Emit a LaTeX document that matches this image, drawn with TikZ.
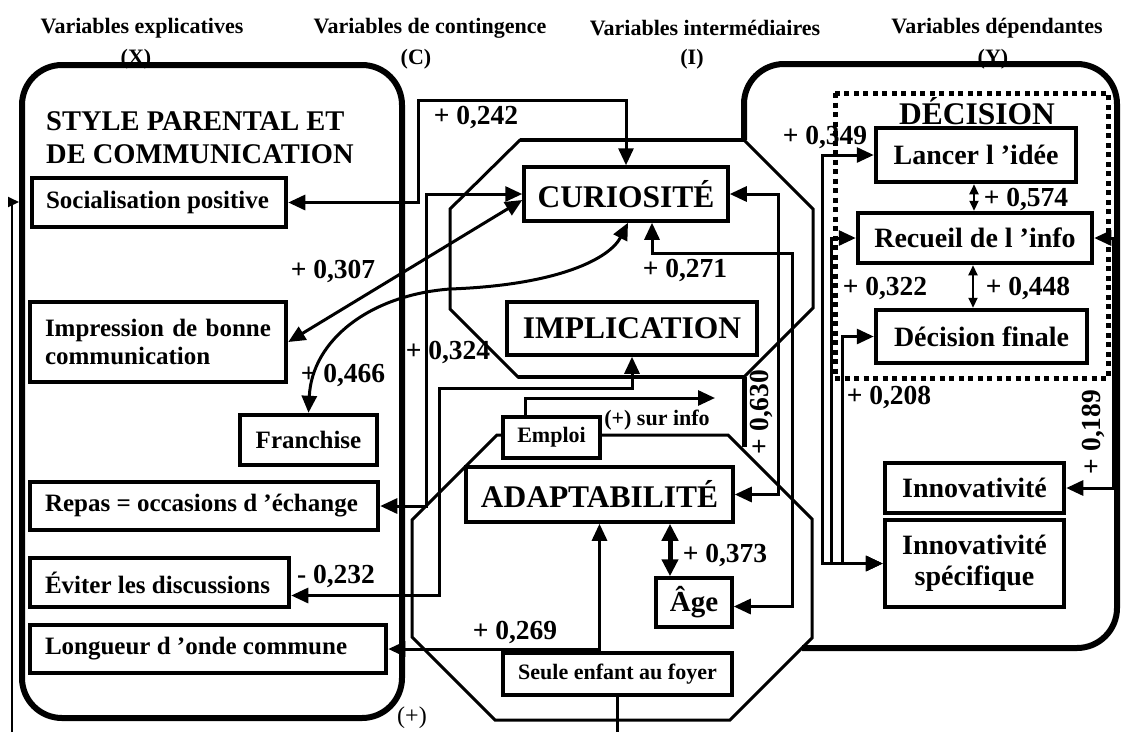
\documentclass[tikz,border=0pt]{standalone}
\usepackage{fontspec}
\setmainfont{Liberation Serif}
\usetikzlibrary{arrows.meta}
% text set flush left in a fixed-width slot
\newcommand\leftslot[2]{\makebox[#1][l]{#2}}
\begin{document}
\begin{tikzpicture}[x=1pt,y=-1pt,
  rbox/.style={line width=6pt, rounded corners=40pt},
  octo/.style={line width=3pt, line join=miter},
  xbox/.style={draw, line width=4.5pt, fill=white, inner sep=0pt, font=\bfseries\fontsize{25}{28}\selectfont},
  ybox/.style={draw, line width=4.5pt, fill=white, inner sep=0pt, align=center, font=\bfseries\fontsize{28}{31}\selectfont},
  ibox/.style={draw, line width=3.5pt, fill=white, inner sep=0pt, font=\bfseries\fontsize{31.5}{34}\selectfont},
  cbox/.style={draw, line width=3.5pt, fill=white, inner sep=0pt, font=\bfseries\fontsize{22}{25}\selectfont},
  link/.style={line width=3pt, arrows={Triangle[length=17pt,width=15pt]-Triangle[length=17pt,width=15pt]}},
  onelink/.style={line width=3pt, arrows={-Triangle[length=17pt,width=15pt]}},
  thinlink/.style={line width=2pt, arrows={Triangle[length=10pt,width=9pt]-Triangle[length=10pt,width=9pt]}},
  boldlink/.style={line width=5pt, arrows={Triangle[length=17pt,width=16pt]-Triangle[length=17pt,width=16pt]}},
  num/.style={font=\bfseries\fontsize{27.5}{30}\selectfont, inner sep=0pt},
  head/.style={font=\bfseries\fontsize{22}{25}\selectfont, inner sep=0pt}]
\useasboundingbox (0,0) rectangle (1121,732);

% column headings
\node[head] (hx)  at (142,28) {Variables explicatives};
\node[head] (hx2) at (136,59) {(X)};
\node[head] (hc)  at (430,28) {Variables de contingence};
\node[head] (hc2) at (416,59) {(C)};
\node[head] (hi)  at (705,28) {Variables intermédiaires};
\node[head] (hi2) at (692,59) {(I)};
\node[head] (hy)  at (997,28) {Variables dépendantes};
\node[head] (hy2) at (993,59) {(Y)};

% large frames
\draw[rbox] (22,65) rectangle (402,718);
\draw[rbox] (744,140) -- (744,64) -- (1117,64) -- (1117,648) -- (802,648);
\draw[line width=5pt] (744,377) -- (744,447);

% octagons of the intermediate variables
\draw[octo] (520,140) -- (744,140) -- (813,209) -- (813,308) -- (744,377) -- (518,377) -- (450,309) -- (450,209) -- cycle;
\draw[line width=4.5pt] (520,140) -- (744,140) (744,377) -- (518,377);
\draw[octo] (497,435) -- (728,435) -- (812,519) -- (812,638) -- (730,720) -- (495,720) -- (412,637) -- (412,520) -- cycle;

% decision group
\draw[line width=5pt, dash pattern=on 5pt off 4.5pt] (835,93) rectangle (1108,378);
\node[font=\bfseries\fontsize{31.5}{34}\selectfont, inner sep=0pt] (dectitle) at (977,111) {DÉCISION};

% left group title
\node[anchor=west, align=left, font=\bfseries\fontsize{28.5}{33}\selectfont, inner sep=0pt] (styletitle) at (46,138) {STYLE PARENTAL ET\\DE COMMUNICATION};

% explanatory variables
\node[xbox, minimum width=254pt, minimum height=49pt] (soc) at (159,202.5) {\leftslot{226pt}{Socialisation positive}};
\node[xbox, minimum width=256pt, minimum height=80pt, align=left, text width=226pt] (imp) at (158,342) {Impression de bonne\\communication};
\node[xbox, minimum width=137pt, minimum height=50pt] (fra) at (308.5,440) {Franchise};
\node[xbox, minimum width=348pt, minimum height=48pt] (rep) at (204,506) {\leftslot{318pt}{Repas = occasions d ’échange}};
\node[xbox, minimum width=259pt, minimum height=49pt] (evi) at (159.5,582.5) {\leftslot{229pt}{Éviter les discussions}};
\node[xbox, minimum width=356pt, minimum height=48pt] (lon) at (208,649) {\leftslot{326pt}{Longueur d ’onde commune}};

% intermediate and contingency variables
\node[ibox, minimum width=204pt, minimum height=54pt] (cur) at (626,194) {CURIOSITÉ};
\node[ibox, minimum width=250pt, minimum height=53pt] (impl) at (632,328.5) {IMPLICATION};
\node[ibox, minimum width=267pt, minimum height=55pt] (ada) at (599.5,494.5) {ADAPTABILITÉ};
\node[ibox, minimum width=76pt, minimum height=49pt, font=\bfseries\fontsize{29}{32}\selectfont] (age) at (694,602.5) {Âge};
\node[cbox, minimum width=97pt, minimum height=41pt] (emp) at (551.5,437.5) {Emploi};
\node[cbox, minimum width=229pt, minimum height=42pt] (seu) at (617.5,674) {Seule enfant au foyer};

% dependent variables
\node[ybox, minimum width=200pt, minimum height=54pt] (lan) at (976,155) {Lancer l ’idée};
\node[ybox, minimum width=234pt, minimum height=50pt] (rec) at (975,238) {Recueil de l ’info};
\node[ybox, minimum width=211pt, minimum height=53pt] (dfi) at (981.5,336.5) {Décision finale};
\node[ybox, minimum width=179pt, minimum height=50pt] (inn) at (974.5,488) {Innovativité};
\node[ybox, minimum width=179pt, minimum height=87pt] (ins) at (974.5,563.5) {Innovativité\\spécifique};

% free ends
\coordinate (infoend) at (715,398);
\coordinate (loopbottom) at (12,732);
\coordinate (loopin) at (19,202);
\coordinate (seubottom) at (617.5,732);

% links
\draw[link] (soc.east) -| (418,100) -| (cur.north);
\draw[link] (imp.east) -- ([yshift=-6pt]cur.west);
\draw[link] (fra.north) .. controls (312,340) and (370,295) .. (450,289)
            .. controls (560,285) and (610,258) .. ([xshift=2pt]cur.south);
\draw[link] (rep.east) -| (426,194) -- (cur.west);
\draw[link] ([yshift=-13pt]evi.east) -| (439,388) -| (impl.south);
\draw[link] (lon.east) -| (ada.south);
\draw[link] ([yshift=-4pt]age.east) -| (792,253) -| ([xshift=26pt]cur.south);
\draw[link] (ada.east) -| (778,194) -- (cur.east);
\draw[boldlink] (ada.south -| 670,0) -- (age.north -| 670,0);
\draw[onelink] (emp.north -| 525,0) |- (infoend);
\draw[thinlink] (lan.south -| 974,0) -- (rec.north -| 974,0);
\draw[thinlink] (rec.south -| 973,0) -- (dfi.north -| 973,0);
\draw[link] (lan.west) -| (822,563.5) -- (ins.west);
\draw[link] (rec.west) -| (831,563.5) -- (ins.west);
\draw[link] (dfi.west) -| (842,563.5) -- (ins.west);
\draw[link] (rec.east) -| (1113,488) -- (inn.east);
\draw[line width=2pt, arrows={-Triangle[length=11pt,width=10pt]}] (loopbottom) |- (loopin);
\draw[line width=3pt] (seu.south) -- (seubottom);

% coefficients
\node[num] (c242) at (476,117) {+ 0,242};
\node[num] (c307) at (333,271) {+ 0,307};
\node[num] (c466) at (343,375) {+ 0,466};
\node[num] (c324) at (448,352) {+ 0,324};
\node[num] (c232) at (336,576) {- 0,232};
\node[num] (c269) at (515,632) {+ 0,269};
\node[num] (c271) at (685,270) {+ 0,271};
\node[num, rotate=90] (c630) at (761,412) {+ 0,630};
\node[num] (c373) at (725,555) {+ 0,373};
\node[num] (c349) at (825,137) {+ 0,349};
\node[num] (c574) at (1026,199) {+ 0,574};
\node[num] (c322) at (885,288) {+ 0,322};
\node[num] (c448) at (1028,288) {+ 0,448};
\node[num] (c208) at (889,397) {+ 0,208};
\node[num, rotate=90] (c189) at (1093,432) {+ 0,189};
\node[font=\bfseries\fontsize{22}{25}\selectfont, inner sep=0pt] (surinfo) at (657,420) {(+) sur info};
\node[font=\fontsize{24}{26}\selectfont, inner sep=0pt] (plus) at (412,718) {(+)};
\end{tikzpicture}
\end{document}
